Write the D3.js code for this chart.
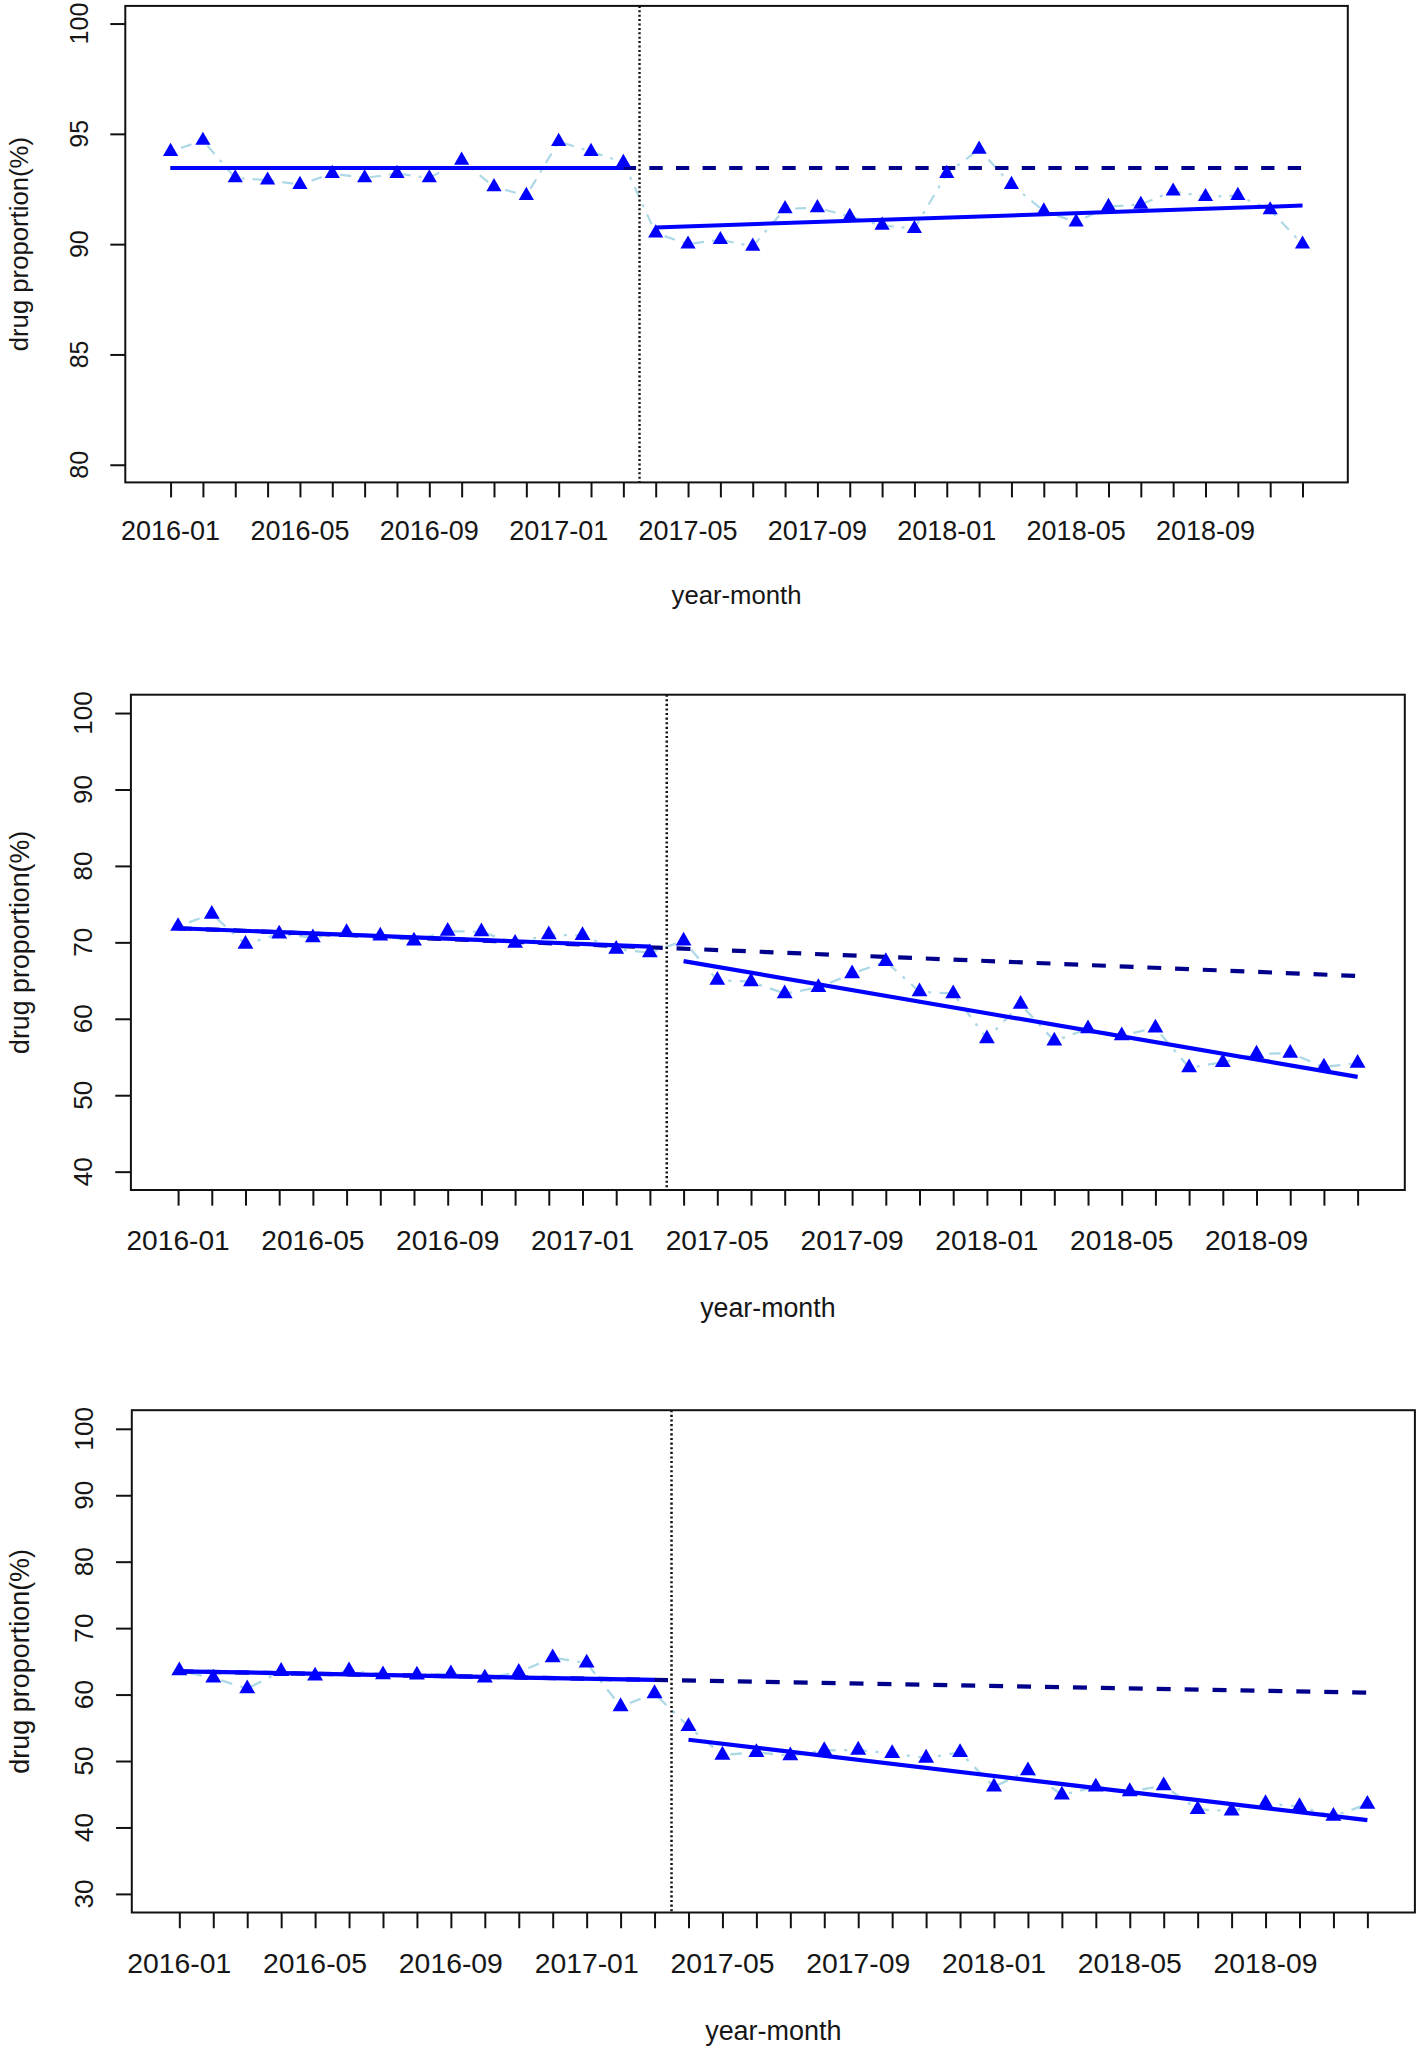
<!DOCTYPE html>
<html>
<head>
<meta charset="utf-8">
<script src="https://cdn.jsdelivr.net/npm/d3@7"></script>
<style>
  html, body { margin: 0; padding: 0; background: #fff; }
  text { font-family: "Liberation Sans", Arial, sans-serif; fill: #161616; }
</style>
</head>
<body>
<script>
// months on the x axis (one tick each)
const months = [
	'2016-01', '2016-02', '2016-03', '2016-04', '2016-05', '2016-06', '2016-07', '2016-08', '2016-09', '2016-10', '2016-11', '2016-12',
	'2017-01', '2017-02', '2017-03', '2017-04', '2017-05', '2017-06', '2017-07', '2017-08', '2017-09', '2017-10', '2017-11', '2017-12',
	'2018-01', '2018-02', '2018-03', '2018-04', '2018-05', '2018-06', '2018-07', '2018-08', '2018-09', '2018-10', '2018-11', '2018-12'
];
const labelledMonths = ['2016-01', '2016-05', '2016-09', '2017-01', '2017-05', '2017-09', '2018-01', '2018-05', '2018-09'];
// interruption sits between 2017-03 and 2017-04
const interruptionIndex = 14.5;

// observed monthly proportions (%)
const values1 = [94.2, 94.7, 93.0, 92.9, 92.7, 93.2, 93.0, 93.2, 93.0, 93.8, 92.6, 92.2,
	94.65, 94.2, 93.7, 90.5, 90.0, 90.2, 89.9, 91.6, 91.65, 91.25, 90.85, 90.7,
	93.2, 94.3, 92.7, 91.5, 91.0, 91.7, 91.8, 92.4, 92.15, 92.2, 91.55, 90.0];
const values2 = [72.1, 73.7, 69.75, 71.1, 70.6, 71.3, 70.85, 70.2, 71.45, 71.4, 69.9, 71.0,
	70.9, 69.1, 68.65, 70.2, 65.05, 64.85, 63.3, 64.1, 65.9, 67.5, 63.55, 63.3,
	57.4, 61.9, 57.1, 58.7, 57.8, 58.8, 53.6, 54.3, 55.4, 55.5, 53.7, 54.2];
const values3 = [63.6, 62.5, 60.9, 63.5, 62.8, 63.6, 63.0, 62.95, 63.15, 62.5, 63.35, 65.55,
	64.75, 58.2, 60.15, 55.2, 50.9, 51.3, 50.8, 51.6, 51.65, 51.15, 50.45, 51.3,
	46.1, 48.55, 44.9, 46.1, 45.4, 46.3, 42.7, 42.5, 43.6, 43.15, 41.7, 43.5];

// fitted segments: [value at first month, value at last month]
const preFit1 = [93.45, 93.45];
const counterfactual1 = [93.45, 93.45];
const postFit1 = [90.76, 91.75];
const preFit2 = [71.85, 69.45];
const counterfactual2 = [71.85, 65.6];
const postFit2 = [67.55, 52.4];
const preFit3 = [63.5, 62.2];
const counterfactual3 = [63.5, 60.3];
const postFit3 = [53.2, 41.1];

// y axis ticks
const yTicks1 = [80, 85, 90, 95, 100];
const yTicks2 = [40, 50, 60, 70, 80, 90, 100];
const yTicks3 = [30, 40, 50, 60, 70, 80, 90, 100];

const xTitle = 'year-month';
const yTitle = 'drug proportion(%)';

const width = 1418;
const height = 2049;

const svg = d3.select('body')
	.append('svg')
	.attr('xmlns', 'http://www.w3.org/2000/svg')
	.attr('width', width)
	.attr('height', height);

function drawPanel(values, yTicks, preFit, counterfactual, postFit, box, s) {
	const g = svg.append('g');
	const lastIdx = months.length - 1;
	const pad = 0.04 * lastIdx;
	const yMin = d3.min(yTicks);
	const yMax = d3.max(yTicks);
	const yPad = 0.04 * (yMax - yMin);

	const xScaleFn = d3.scaleLinear().domain([-pad, lastIdx + pad]).range([box.left, box.right]);
	const yScaleFn = d3.scaleLinear().domain([yMin - yPad, yMax + yPad]).range([box.bottom, box.top]);

	// x axis: a tick per month, labels every fourth month
	const xAxis = d3.axisBottom(xScaleFn)
		.tickValues(d3.range(months.length))
		.tickSize(15 * s)
		.tickPadding(0)
		.tickFormat(() => '');
	const xAxisSel = g.append('g')
		.attr('transform', 'translate(0,' + box.bottom + ')')
		.call(xAxis);
	xAxisSel.select('.domain').remove();
	xAxisSel.selectAll('.tick line').attr('stroke', '#111').attr('stroke-width', 2);

	g.append('g')
		.selectAll('text')
		.data(labelledMonths)
		.enter()
		.append('text')
		.attr('x', (m) => xScaleFn(months.indexOf(m)))
		.attr('y', box.bottom + 47.5 * s)
		.attr('dy', '0.36em')
		.attr('text-anchor', 'middle')
		.style('font-size', 27 * s + 'px')
		.text((m) => m);

	// y axis
	const yAxis = d3.axisLeft(yScaleFn)
		.tickValues(yTicks)
		.tickSize(15 * s)
		.tickFormat(() => '');
	const yAxisSel = g.append('g')
		.attr('transform', 'translate(' + box.left + ',0)')
		.call(yAxis);
	yAxisSel.select('.domain').remove();
	yAxisSel.selectAll('.tick line').attr('stroke', '#111').attr('stroke-width', 2);

	g.append('g')
		.selectAll('text')
		.data(yTicks)
		.enter()
		.append('text')
		.attr('transform', (v) => 'translate(' + (box.left - 46 * s) + ',' + yScaleFn(v) + ') rotate(-90)')
		.attr('dy', '0.36em')
		.attr('text-anchor', 'middle')
		.style('font-size', 25 * s + 'px')
		.text((v) => v);

	// titles
	g.append('text')
		.attr('x', (box.left + box.right) / 2)
		.attr('y', box.bottom + 112.6 * s)
		.attr('dy', '0.36em')
		.attr('text-anchor', 'middle')
		.style('font-size', 25.7 * s + 'px')
		.text(xTitle);
	g.append('text')
		.attr('transform', 'translate(' + (box.left - 107 * s) + ',' + (box.top + box.bottom) / 2 + ') rotate(-90)')
		.attr('dy', '0.36em')
		.attr('text-anchor', 'middle')
		.style('font-size', 25.7 * s + 'px')
		.text(yTitle);

	// observed series: light blue dot-dash line
	const line = d3.line()
		.x((d) => xScaleFn(d[0]))
		.y((d) => yScaleFn(d[1]));
	g.append('path')
		.datum(values.map((v, i) => [i, v]))
		.attr('d', line)
		.attr('fill', 'none')
		.attr('stroke', '#ADD8E6')
		.attr('stroke-width', 2.2 * s)
		.attr('stroke-dasharray', (3 * s) + ',' + (8 * s) + ',' + (11 * s) + ',' + (8 * s));

	// counterfactual (dashed, dark blue) across whole period
	g.append('path')
		.datum([[0, counterfactual[0]], [lastIdx, counterfactual[1]]])
		.attr('d', line)
		.attr('fill', 'none')
		.attr('stroke', '#00008B')
		.attr('stroke-width', 4 * s)
		.attr('stroke-dasharray', (13.3 * s) + ',' + (13.3 * s));

	// fitted segments (solid blue)
	const cut = Math.floor(interruptionIndex);
	g.append('path')
		.datum([[0, preFit[0]], [cut, preFit[1]]])
		.attr('d', line)
		.attr('fill', 'none')
		.attr('stroke', '#0000FF')
		.attr('stroke-width', 4 * s);
	g.append('path')
		.datum([[cut + 1, postFit[0]], [lastIdx, postFit[1]]])
		.attr('d', line)
		.attr('fill', 'none')
		.attr('stroke', '#0000FF')
		.attr('stroke-width', 4 * s);

	// interruption marker
	g.append('line')
		.attr('x1', xScaleFn(interruptionIndex))
		.attr('x2', xScaleFn(interruptionIndex))
		.attr('y1', box.top)
		.attr('y2', box.bottom)
		.attr('stroke', '#111')
		.attr('stroke-width', 2.4 * s)
		.attr('stroke-dasharray', (2 * s) + ',' + (2.4 * s));

	// triangles
	g.append('g')
		.selectAll('path')
		.data(values)
		.enter()
		.append('path')
		.attr('d', d3.symbol(d3.symbolTriangle, 100 * s * s))
		.attr('transform', (v, i) => 'translate(' + xScaleFn(i) + ',' + yScaleFn(v) + ')')
		.attr('fill', '#0000FF');

	// box
	g.append('rect')
		.attr('x', box.left)
		.attr('y', box.top)
		.attr('width', box.right - box.left)
		.attr('height', box.bottom - box.top)
		.attr('fill', 'none')
		.attr('stroke', '#111')
		.attr('stroke-width', 2);
}

drawPanel(values1, yTicks1, preFit1, counterfactual1, postFit1,
	{ left: 125.3, right: 1347.8, top: 5.9, bottom: 482.4 }, 1.0);
drawPanel(values2, yTicks2, preFit2, counterfactual2, postFit2,
	{ left: 130.9, right: 1404.8, top: 694.7, bottom: 1190 }, 1.042);
drawPanel(values3, yTicks3, preFit3, counterfactual3, postFit3,
	{ left: 131.8, right: 1414.9, top: 1410.2, bottom: 1912.5 }, 1.05);
</script>
</body>
</html>
